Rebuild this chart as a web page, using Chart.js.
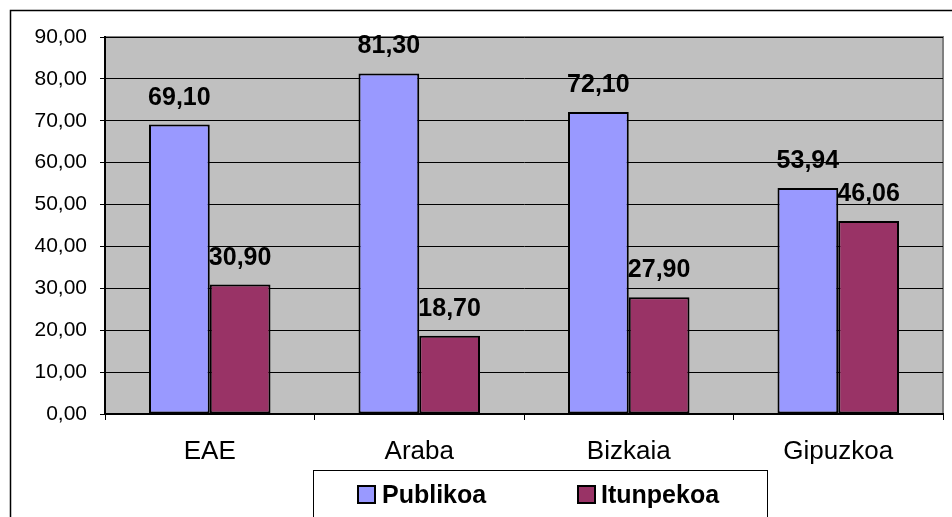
<!DOCTYPE html>
<html>
<head>
<meta charset="utf-8">
<script src="https://cdn.jsdelivr.net/npm/chart.js@4"></script>
<style>
  html, body { margin: 0; padding: 0; background: #fff; }
  canvas { display: block; }
</style>
</head>
<body>
<canvas id="ikasleChart" width="952" height="517"></canvas>
<script>
const categories = ['EAE', 'Araba', 'Bizkaia', 'Gipuzkoa'];
const publikoa = [69.10, 81.30, 72.10, 53.94];
const itunpekoa = [30.90, 18.70, 27.90, 46.06];
const seriesNames = ['Publikoa', 'Itunpekoa'];
const seriesColors = ['#9999FF', '#993366'];
const yTicks = [0, 10, 20, 30, 40, 50, 60, 70, 80, 90];

const FONT = "'Liberation Sans', Arial, sans-serif";
const fmt = v => v.toFixed(2).replace('.', ',');

// gray plot background and outer frame
const frame = {
  id: 'frame',
  beforeDraw(chart) {
    const { ctx, chartArea: a } = chart;
    ctx.save();
    ctx.fillStyle = '#fff';
    ctx.fillRect(0, 0, chart.width, chart.height);
    ctx.strokeStyle = '#000';
    ctx.lineWidth = 1.5;
    ctx.strokeRect(10.5, 10.5, chart.width + 20, chart.height + 20);
    ctx.fillStyle = '#C0C0C0';
    ctx.fillRect(a.left, a.top, a.right - a.left, a.bottom - a.top);
    ctx.strokeStyle = '#808080';
    ctx.lineWidth = 2;
    ctx.beginPath();
    ctx.moveTo(a.left, a.top);
    ctx.lineTo(a.right, a.top);
    ctx.lineTo(a.right, a.bottom);
    ctx.stroke();
    ctx.restore();
  }
};

// value labels above each bar + boxed legend below the axis
const labels = {
  id: 'labels',
  afterDatasetsDraw(chart) {
    const { ctx } = chart;
    ctx.save();
    ctx.font = 'bold 25px ' + FONT;
    ctx.fillStyle = '#000';
    ctx.textAlign = 'center';
    ctx.textBaseline = 'alphabetic';
    chart.data.datasets.forEach((ds, i) => {
      chart.getDatasetMeta(i).data.forEach((bar, j) => {
        ctx.fillText(fmt(ds.data[j]), bar.x, bar.y - 20);
      });
    });

    ctx.lineWidth = 1;
    ctx.strokeStyle = '#000';
    ctx.strokeRect(313.5, 470.5, 454, 80);
    const items = [{ x: 358, tx: 382 }, { x: 578, tx: 601 }];
    ctx.textAlign = 'left';
    ctx.font = 'bold 25px ' + FONT;
    items.forEach((it, i) => {
      ctx.fillStyle = seriesColors[i];
      ctx.fillRect(it.x, 486, 17, 17);
      ctx.lineWidth = 2;
      ctx.strokeRect(it.x, 486, 17, 17);
      ctx.fillStyle = '#000';
      ctx.fillText(seriesNames[i], it.tx, 503);
    });
    ctx.restore();
  }
};

new Chart(document.getElementById('ikasleChart'), {
  type: 'bar',
  data: {
    labels: categories,
    datasets: [
      { label: seriesNames[0], data: publikoa, backgroundColor: seriesColors[0] },
      { label: seriesNames[1], data: itunpekoa, backgroundColor: seriesColors[1] }
    ].map(d => Object.assign(d, {
      borderColor: '#000',
      borderWidth: 2,
      borderSkipped: false,
      barPercentage: 1,
      categoryPercentage: 0.58
    }))
  },
  options: {
    responsive: false,
    animation: false,
    layout: { padding: { top: 37, right: 9, bottom: 0, left: 0 } },
    plugins: { legend: { display: false }, tooltip: { enabled: false } },
    scales: {
      x: {
        afterFit: s => { s.height = 103; },
        grid: { offset: true, drawOnChartArea: false, color: '#000', tickLength: 6 },
        border: { color: '#000', width: 2 },
        ticks: { color: '#000', padding: 16, font: { family: FONT, size: 26 } }
      },
      y: {
        min: 0,
        max: 90,
        afterFit: s => { s.width = 105; },
        afterBuildTicks: s => { s.ticks = yTicks.map(v => ({ value: v })); },
        grid: { color: '#000', lineWidth: 1, tickLength: 5 },
        border: { color: '#000', width: 2 },
        ticks: { color: '#000', padding: 13, font: { family: FONT, size: 21 }, callback: v => fmt(v) }
      }
    }
  },
  plugins: [frame, labels]
});
</script>
</body>
</html>
